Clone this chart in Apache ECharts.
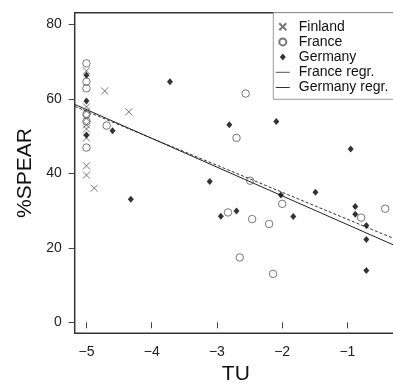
<!DOCTYPE html>
<html>
<head>
<meta charset="utf-8">
<script src="https://cdn.jsdelivr.net/npm/echarts@6/dist/echarts.min.js"></script>
<style>
html,body{margin:0;padding:0;background:#fff;}
#chart{width:393px;height:383px;}
</style>
</head>
<body>
<div id="chart"></div>
<script>
// ---- data ----
const finlandX = [-5, -5, -5, -5, -5, -5, -5, -5, -5, -4.72, -4.35, -4.88];
const finlandY = [67.5, 57.8, 56.7, 54.8, 53.0, 51.9, 49.5, 42.0, 39.5, 62.1, 56.5, 36.0];

const franceX = [-5, -5, -5, -5, -5, -5, -4.69, -2.56, -2.70, -2.49, -2.83, -2.46, -2.20, -2.00, -2.65, -2.14, -0.79, -0.42];
const franceY = [69.5, 64.6, 62.8, 55.8, 53.9, 46.9, 52.8, 61.4, 49.5, 38.0, 29.5, 27.7, 26.4, 31.8, 17.4, 13.0, 28.1, 30.5];

const germanyX = [-5, -5, -5, -4.60, -4.32, -3.72, -2.81, -2.09, -3.11, -2.02, -2.94, -2.70, -1.83, -1.49, -0.95, -0.88, -0.88, -0.71, -0.71, -0.71];
const germanyY = [66.3, 59.4, 50.3, 51.4, 33.0, 64.6, 53.0, 53.9, 37.8, 34.2, 28.5, 29.9, 28.4, 34.9, 46.5, 31.1, 29.0, 26.0, 22.2, 13.9];

// regression coefficients: [intercept, slope]
const franceRegr = [20.4, -7.25];
const germanyRegr = [18.5, -7.72];

const xTicks = [-5, -4, -3, -2, -1];
const yTicks = [0, 20, 40, 60, 80];
const xRange = [-5.18, -0.24];
const yRange = [-2.95, 83.1];

const legendNames = ['Finland', 'France', 'Germany', 'France regr.', 'Germany regr.'];

// ---- build ----
const FONT = 'Liberation Sans, Arial, Helvetica, sans-serif';
const pairs = (xs, ys) => xs.map((x, i) => [x, ys[i]]);
const regrLine = (c) => xRange.map(x => [x, c[0] + c[1] * x]);
const minus = v => String(v).replace('-', '\u2212');
const hidden = {color: 'transparent', borderColor: 'transparent', opacity: 0};
const DIAMOND = 'path://M3,0L6,3.6L3,7.2L0,3.6Z';

const chart = echarts.init(document.getElementById('chart'), null, {renderer: 'canvas'});
chart.setOption({
  animation: false,
  backgroundColor: '#fff',
  textStyle: {fontFamily: FONT},
  grid: {
    left: 74.7, top: 12.7, right: -4, bottom: 49.7,
    outerBoundsMode: 'none', containLabel: false,
    show: true, borderColor: '#333', borderWidth: 1.5, backgroundColor: 'transparent'
  },
  graphic: [{
    type: 'rect', z: 5, silent: true,
    shape: {x: 273.3, y: 12.7, width: 140, height: 86.6},
    style: {fill: '#fff', stroke: '#999', lineWidth: 1}
  }],
  xAxis: {
    type: 'value', min: xRange[0], max: xRange[1],
    name: 'TU', nameLocation: 'middle', nameGap: 28,
    nameTextStyle: {fontSize: 21, color: '#111', fontFamily: FONT},
    axisLine: {show: false},
    splitLine: {show: false},
    axisTick: {show: true, length: 6, inside: false, customValues: xTicks, lineStyle: {color: '#444', width: 1}},
    axisLabel: {customValues: xTicks, margin: 12, fontSize: 14, color: '#222', fontFamily: FONT, formatter: minus}
  },
  yAxis: {
    type: 'value', min: yRange[0], max: yRange[1],
    name: '%SPEAR', nameLocation: 'middle', nameGap: 38,
    nameTextStyle: {fontSize: 21, color: '#111', fontFamily: FONT},
    axisLine: {show: false},
    splitLine: {show: false},
    axisTick: {show: true, length: 6, inside: false, customValues: yTicks, lineStyle: {color: '#444', width: 1}},
    axisLabel: {customValues: yTicks, margin: 13, fontSize: 14, color: '#222', fontFamily: FONT}
  },
  legend: {
    orient: 'vertical', left: 273.3, top: 12.7, z: 10,
    padding: [7, 4, 6, 2],
    itemGap: 1.2, itemWidth: 14, itemHeight: 7,
    symbolKeepAspect: true,
    backgroundColor: 'transparent', borderWidth: 0,
    textStyle: {fontSize: 14, lineHeight: 14, color: '#111', fontFamily: FONT, padding: [0, 0, 0, 4]},
    data: [
      {name: legendNames[0]},
      {name: legendNames[1]},
      {name: legendNames[2], icon: DIAMOND},
      {name: legendNames[3], lineStyle: {type: 'solid', color: '#555', width: 1}, itemStyle: hidden},
      {name: legendNames[4], lineStyle: {type: 'solid', color: '#333', width: 1}, itemStyle: hidden}
    ]
  },
  series: [
    {
      name: legendNames[3], type: 'line', data: regrLine(franceRegr),
      symbol: 'none', clip: true, z: 1,
      itemStyle: {color: '#333'},
      lineStyle: {color: '#333', width: 1, type: [3, 2]}
    },
    {
      name: legendNames[4], type: 'line', data: regrLine(germanyRegr),
      symbol: 'none', clip: true, z: 1,
      itemStyle: {color: '#222'},
      lineStyle: {color: '#222', width: 1, type: 'solid'}
    },
    {
      name: legendNames[0], type: 'scatter', data: pairs(finlandX, finlandY),
      symbol: 'path://M0,0L10,10M10,0L0,10', symbolSize: 7, z: 3,
      itemStyle: {color: 'transparent', borderColor: '#555', borderWidth: 1}
    },
    {
      name: legendNames[1], type: 'scatter', data: pairs(franceX, franceY),
      symbol: 'circle', symbolSize: 7.5, z: 3,
      itemStyle: {color: 'transparent', borderColor: '#555', borderWidth: 1}
    },
    {
      name: legendNames[2], type: 'scatter', data: pairs(germanyX, germanyY),
      symbol: 'diamond', symbolSize: [6, 7], z: 4,
      itemStyle: {color: '#000'}
    }
  ]
});
</script>
</body>
</html>
